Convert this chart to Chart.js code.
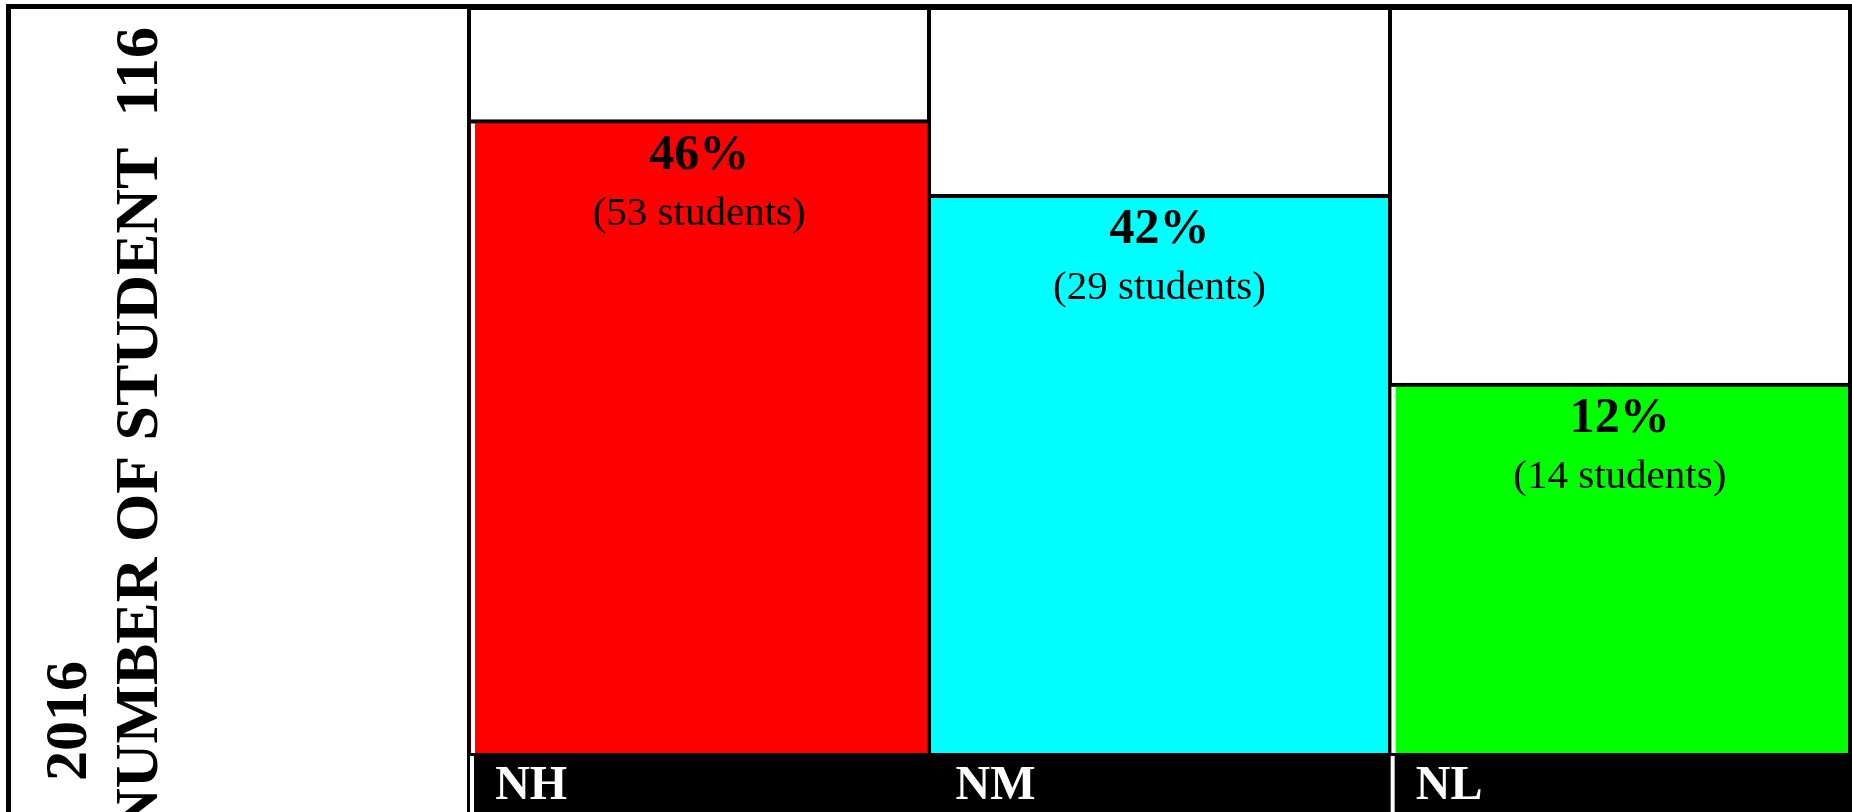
<!DOCTYPE html>
<html>
<head>
<meta charset="utf-8">
<title>2016 number of students</title>
<script src="https://cdn.jsdelivr.net/npm/chart.js@4.4.1/dist/chart.umd.min.js"></script>
<style>
    html, body { margin: 0; padding: 0; background: #fff; }
    #wrap { width: 1852px; height: 812px; position: relative; }
</style>
</head>
<body>
<div id="wrap"><canvas id="studentChart"></canvas></div>
<script>
// chart values
const categories = ["NH", "NM", "NL"];
const barHeights = [84.9, 74.9, 49.6];
const percentLabels = ["46%", "42%", "12%"];
const studentCounts = [53, 29, 14];
const barColors = ["#ff0000", "#00ffff", "#00ff00"];
const yearLabel = "2016";
const totalStudents = 116;

const SERIF = "'Liberation Serif', 'Times New Roman', serif";

// white page behind everything
const backgroundPlugin = {
    id: "backgroundPlugin",
    beforeDraw(chart) {
        const ctx = chart.ctx;
        ctx.save();
        ctx.fillStyle = "#fff";
        ctx.fillRect(0, 0, chart.width, chart.height);
        ctx.restore();
    }
};

// black label strip, bar edges and the percent / student labels
const barLabelPlugin = {
    id: "barLabelPlugin",
    afterDatasetsDraw(chart) {
        const ctx = chart.ctx;
        const area = chart.chartArea;
        const meta = chart.getDatasetMeta(0);
        ctx.save();
        ctx.fillStyle = "#000";
        ctx.fillRect(area.left - 2, area.bottom, area.right - area.left + 4, chart.height - area.bottom);

        // thin light edge on the left of the first and last bar, running into the strip
        ctx.fillStyle = "#fff";
        meta.data.forEach(function (bar, i) {
            if (i === 1) return;
            const left = bar.x - bar.width / 2;
            ctx.fillRect(left + 2, bar.y + 4, 4, area.bottom - bar.y - 4);
            ctx.fillRect(left + 1, area.bottom + 3, 4, chart.height - area.bottom - 3);
        });

        ctx.fillStyle = "#000";
        ctx.textAlign = "center";
        ctx.textBaseline = "alphabetic";
        meta.data.forEach(function (bar, i) {
            ctx.font = "bold 50px " + SERIF;
            ctx.fillText(percentLabels[i], bar.x, bar.y + 49);
            ctx.font = "41px " + SERIF;
            ctx.fillText("(" + studentCounts[i] + " students)", bar.x, bar.y + 105);
        });
        ctx.restore();
    }
};

// outer frame and the rotated titles in the left cell
const framePlugin = {
    id: "framePlugin",
    afterDraw(chart) {
        const ctx = chart.ctx;
        ctx.save();
        ctx.fillStyle = "#000";
        ctx.fillRect(6, 4, chart.width - 6, 5);
        ctx.fillRect(6, 4, 5, chart.height - 4);
        ctx.fillRect(chart.width - 4, 4, 4, chart.height - 4);

        ctx.font = "bold 60px " + SERIF;
        ctx.textBaseline = "alphabetic";
        ctx.save();
        ctx.translate(86, 781);
        ctx.rotate(-Math.PI / 2);
        ctx.textAlign = "left";
        ctx.fillText(yearLabel, 0, 0);
        ctx.restore();

        ctx.font = "bold 62px " + SERIF;
        ctx.save();
        ctx.translate(157, 27);
        ctx.rotate(-Math.PI / 2);
        ctx.textAlign = "right";
        ctx.fillText("NUMBER OF STUDENT  " + totalStudents, 0, 0);
        ctx.restore();
        ctx.restore();
    }
};

const chartData = {
    labels: categories,
    datasets: [{
        data: barHeights,
        backgroundColor: barColors,
        borderColor: "#000",
        borderWidth: { top: 4, left: 2, right: 2, bottom: 0 },
        borderSkipped: "bottom",
        barPercentage: 1,
        categoryPercentage: 1
    }]
};

const chartOptions = {
    responsive: true,
    maintainAspectRatio: false,
    animation: false,
    layout: { padding: { top: 7, right: 2, left: 0, bottom: 0 } },
    plugins: {
        legend: { display: false },
        tooltip: { enabled: false },
        title: { display: false }
    },
    scales: {
        x: {
            offset: true,
            border: { display: false },
            grid: {
                offset: true,
                color: "#000",
                lineWidth: 4,
                drawTicks: false
            },
            ticks: {
                z: 1,
                color: "#fff",
                font: { family: SERIF, size: 48, weight: "bold" },
                align: "start",
                labelOffset: -204,
                padding: 5,
                maxRotation: 0,
                autoSkip: false
            },
            afterFit: function (scale) { scale.height = 59; }
        },
        y: {
            min: 0,
            max: 100,
            border: { display: false },
            ticks: { display: false, stepSize: 100 },
            grid: {
                drawTicks: false,
                // only the top line of the table is drawn; no line at 0 so bars reach the strip
                lineWidth: function (c) {
                    return c.tick && c.tick.value === 100 ? 5 : 0;
                },
                color: "#000"
            },
            afterFit: function (scale) { scale.width = 469; }
        }
    }
};

const ctx = document.getElementById("studentChart").getContext("2d");
const chartObject = new Chart(ctx, {
    type: "bar",
    data: chartData,
    options: chartOptions,
    plugins: [backgroundPlugin, barLabelPlugin, framePlugin]
});
</script>
</body>
</html>
